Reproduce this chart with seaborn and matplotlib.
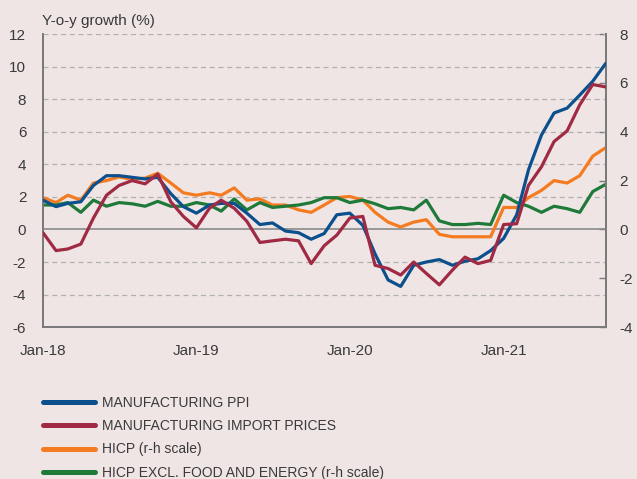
import matplotlib
matplotlib.use("Agg")
import matplotlib.pyplot as plt
import pandas as pd
import seaborn as sns


# Data (monthly, Jan-18 to Sep-21)
months = pd.date_range("2018-01-01", periods=45, freq="MS")

ppi = [1.8, 1.4, 1.6, 1.7, 2.7, 3.3, 3.3, 3.2, 3.1, 3.2,
       2.2, 1.4, 1.0, 1.5, 1.6, 1.6, 1.0, 0.3, 0.4, -0.1,
       -0.2, -0.6, -0.25, 0.9, 1.0, 0.25, -1.5, -3.1, -3.5, -2.2,
       -2.0, -1.85, -2.2, -1.95, -1.8, -1.3, -0.55, 0.9, 3.65, 5.8,
       7.15, 7.45, 8.25, 9.1, 10.2]

import_prices = [-0.2, -1.3, -1.2, -0.9, 0.7, 2.1, 2.7, 3.0, 2.8, 3.4,
                 1.7, 0.8, 0.1, 1.3, 1.8, 1.3, 0.5, -0.8, -0.7, -0.6,
                 -0.7, -2.1, -1.0, -0.35, 0.7, 0.8, -2.2, -2.4, -2.8, -2.0,
                 -2.7, -3.4, -2.5, -1.7, -2.1, -1.9, 0.3, 0.35, 2.7, 3.85,
                 5.4, 6.05, 7.65, 8.9, 8.75]

hicp = [1.3, 1.1, 1.4, 1.2, 1.9, 2.0, 2.15, 2.05, 2.1, 2.3,
        1.9, 1.5, 1.4, 1.5, 1.4, 1.7, 1.2, 1.25, 1.0, 1.0,
        0.8, 0.7, 1.0, 1.3, 1.35, 1.2, 0.7, 0.3, 0.1, 0.3,
        0.4, -0.2, -0.3, -0.3, -0.3, -0.3, 0.9, 0.9, 1.3, 1.6,
        2.0, 1.9, 2.2, 3.0, 3.35]

hicp_core = [1.0, 1.0, 1.1, 0.7, 1.2, 0.95, 1.1, 1.05, 0.95, 1.15,
             0.95, 0.95, 1.1, 1.0, 0.75, 1.25, 0.8, 1.1, 0.9, 0.95,
             1.0, 1.1, 1.3, 1.3, 1.1, 1.2, 1.05, 0.85, 0.9, 0.8,
             1.2, 0.35, 0.2, 0.2, 0.25, 0.2, 1.4, 1.1, 0.95, 0.7,
             0.95, 0.85, 0.7, 1.55, 1.85]

labels = ["MANUFACTURING PPI", "MANUFACTURING IMPORT PRICES",
          "HICP (r-h scale)", "HICP EXCL. FOOD AND ENERGY (r-h scale)"]
colors = ["#0b4f8c", "#a02a44", "#f47b20", "#1f7a3a"]

left_ticks = list(range(-6, 13, 2))
right_ticks = list(range(-4, 9, 2))
xtick_dates = pd.to_datetime(["2018-01-01", "2019-01-01", "2020-01-01", "2021-01-01"])
xtick_labels = ["Jan-18", "Jan-19", "Jan-20", "Jan-21"]

bg = "#efe5e5"
text_col = "#3a3a3a"
axis_col = "#7a7a7a"

sns.set_theme(style="white")
plt.rcParams["font.family"] = ["Liberation Sans", "DejaVu Sans"]

fig = plt.figure(figsize=(6.37, 4.79), dpi=100, facecolor=bg)
ax = fig.add_axes([0.0675, 0.317, 0.8835, 0.612])
ax.set_facecolor(bg)
ax2 = ax.twinx()

df_left = pd.DataFrame({"date": months, "ppi": ppi, "imp": import_prices})
df_right = pd.DataFrame({"date": months, "hicp": hicp, "core": hicp_core})

lw = 2.3
sns.lineplot(data=df_left, x="date", y="ppi", ax=ax, color=colors[0], lw=lw, zorder=4)
sns.lineplot(data=df_left, x="date", y="imp", ax=ax, color=colors[1], lw=lw, zorder=5)
sns.lineplot(data=df_right, x="date", y="hicp", ax=ax2, color=colors[2], lw=lw, zorder=3)
sns.lineplot(data=df_right, x="date", y="core", ax=ax2, color=colors[3], lw=lw, zorder=3)

# left-scale lines above the right-scale ones
ax.set_zorder(ax2.get_zorder() + 1)
ax.patch.set_visible(False)
ax2.patch.set_visible(True)
ax2.patch.set_facecolor(bg)

ax.set_ylim(-6, 12)
ax2.set_ylim(-4, 8)
ax.set_xlim(months[0], months[-1])

ax.set_yticks(left_ticks)
ax.set_yticklabels([str(t) for t in left_ticks])
ax2.set_yticks(right_ticks)
ax2.set_yticklabels([str(t) for t in right_ticks])
ax.set_xticks(xtick_dates)
ax.set_xticklabels(xtick_labels)

# grid follows the left scale, drawn on the back axes
for t in left_ticks:
    if t == 0:
        ax2.axhline(0, color="#8a8a8a", lw=1.2, zorder=1)
    elif t > -6:
        ax2.axhline(t * 8 / 12, color="#b0b0b0", lw=0.9, ls=(0, (4, 3)), zorder=1)

ax.set_xlabel("")
ax.set_ylabel("")
ax2.set_ylabel("")

for a in (ax, ax2):
    a.spines["top"].set_visible(False)
    for s in ("left", "right", "bottom"):
        a.spines[s].set_color(axis_col)
        a.spines[s].set_linewidth(1.3)

ax.tick_params(axis="y", length=0, labelsize=11, colors=text_col, pad=12)
ax.tick_params(axis="x", direction="in", length=5, width=1, color=axis_col,
               labelsize=11, labelcolor=text_col, pad=12)
ax2.tick_params(axis="y", direction="in", length=5, width=1, color=axis_col,
                labelsize=11, labelcolor=text_col, pad=10)
ax2.tick_params(axis="x", length=0)

fig.text(0.066, 0.948, "Y-o-y growth (%)", fontsize=11, color=text_col, ha="left")

handles = [plt.Line2D([], [], color=c, lw=3.6) for c in colors]
fig.legend(handles, labels, loc="upper left", bbox_to_anchor=(0.0675, 0.173),
           frameon=False, handlelength=3.75, handletextpad=0.5,
           labelspacing=0.66, borderpad=0, borderaxespad=0, labelcolor=text_col,
           prop={"family": ["Liberation Sans Narrow", "Liberation Sans"], "size": 10})

fig.savefig("out.png", dpi=100, facecolor=bg)
